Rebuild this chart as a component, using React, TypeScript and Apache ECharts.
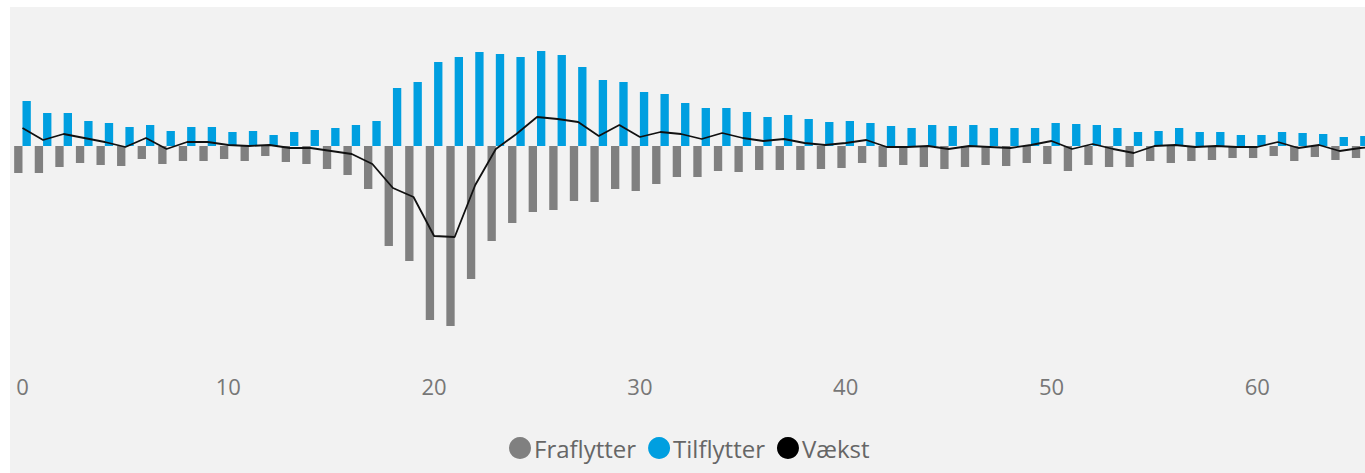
import React, { useEffect, useRef } from "react";
import * as echarts from "echarts";

const ages: string[] = Array.from({ length: 67 }, (_, i) => String(i));

const fraflytter: number[] = [
  -27, -27, -21, -17, -19, -20, -13, -18, -15, -15,
  -13, -15, -10, -16, -18, -23, -29, -43, -100, -115,
  -174, -180, -133, -95, -77, -66, -64, -55, -56, -43,
  -45, -38, -31, -31, -25, -26, -24, -24, -24, -23,
  -22, -17, -21, -19, -21, -23, -21, -19, -20, -17,
  -18, -25, -19, -21, -21, -15, -17, -15, -14, -12,
  -12, -10, -15, -11, -14, -12, -10,
];

const tilflytter: number[] = [
  45, 33, 33, 25, 23, 19, 21, 15, 19, 19,
  14, 15, 11, 14, 16, 18, 21, 25, 58, 64,
  84, 89, 94, 92, 89, 95, 91, 79, 66, 64,
  54, 52, 43, 38, 38, 34, 29, 31, 27, 24,
  25, 23, 20, 18, 21, 20, 21, 18, 18, 18,
  23, 22, 21, 18, 14, 15, 18, 14, 14, 11,
  11, 14, 13, 12, 9, 10, 10,
];

const vaekst: number[] = [
  18, 6, 12, 8, 4, -1, 8, -3, 4, 4,
  1, 0, 1, -2, -2, -5, -8, -18, -42, -51,
  -90, -91, -39, -3, 12, 29, 27, 24, 10, 21,
  9, 14, 12, 7, 13, 8, 5, 7, 3, 1,
  3, 6, -1, -1, 0, -3, 0, -1, -2, 1,
  5, -3, 2, -3, -7, 0, 1, -1, 0, -1,
  -1, 4, -2, 1, -5, -2, 0,
];

const legendNames: string[] = ["Fraflytter", "Tilflytter", "Vækst"];

export default function App() {
  const ref = useRef<HTMLDivElement>(null);

  useEffect(() => {
    if (!ref.current) return;
    const chart = echarts.init(ref.current, undefined, { renderer: "svg" });
    const font = "'Open Sans', 'Noto Sans', sans-serif";
    chart.setOption({
      animation: false,
      textStyle: { fontFamily: font },
      grid: { left: 12.2, top: 46, height: 300, width: 67 * 20.58, containLabel: false },
      legend: {
        data: legendNames,
        left: 509,
        top: 436,
        padding: 0,
        icon: "circle",
        itemWidth: 22,
        itemHeight: 22,
        itemGap: 12,
        textStyle: {
          fontSize: 24,
          color: "#666666",
          fontFamily: font,
          padding: [0, 0, 0, -2],
        },
      },
      xAxis: {
        type: "category",
        data: ages,
        axisLine: { show: false, onZero: false },
        axisTick: { show: false },
        splitLine: { show: false },
        axisLabel: {
          interval: 9,
          fontSize: 22,
          color: "#777777",
          margin: 29,
          fontFamily: font,
        },
      },
      yAxis: {
        type: "value",
        min: -200,
        max: 100,
        show: false,
        splitLine: { show: false },
      },
      series: [
        {
          name: "Fraflytter",
          type: "bar",
          data: fraflytter,
          itemStyle: { color: "#808080" },
          barGap: "0%",
          barCategoryGap: "19%",
        },
        {
          name: "Tilflytter",
          type: "bar",
          data: tilflytter,
          itemStyle: { color: "#009FE0" },
          barGap: "0%",
          barCategoryGap: "19%",
        },
        {
          name: "Vækst",
          type: "line",
          data: vaekst,
          showSymbol: false,
          symbol: "circle",
          lineStyle: { color: "#111111", width: 1.8 },
          itemStyle: { color: "#000000" },
          z: 5,
        },
      ],
    });
    return () => chart.dispose();
  }, []);

  return (
    <div
      style={{
        position: "fixed",
        left: 0,
        top: 0,
        width: 1365,
        height: 473,
        overflow: "hidden",
        background: "#ffffff",
      }}
    >
      <div
        style={{
          position: "absolute",
          left: 10,
          top: 7,
          width: 1355,
          height: 466,
          background: "#f2f2f2",
        }}
      />
      <div
        ref={ref}
        style={{ position: "absolute", left: 0, top: 0, width: 1400, height: 473 }}
      />
    </div>
  );
}
